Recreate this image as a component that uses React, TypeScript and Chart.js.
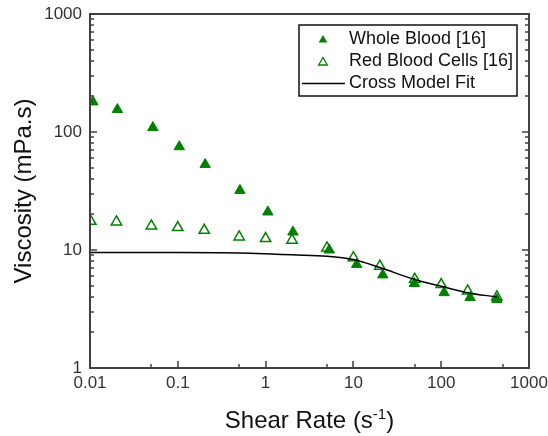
import React, { useEffect, useRef } from "react";
import { Chart, registerables } from "chart.js";

Chart.register(...registerables);

// ---- Data ----
const wholeBloodRate = [0.0108, 0.0205, 0.052, 0.104, 0.205, 0.51, 1.06, 2.05, 5.3, 10.9, 21.6, 49.5, 108, 213, 430];
const wholeBloodViscosity = [180, 155, 109, 75, 53, 32, 21, 14.2, 10.0, 7.55, 6.15, 5.2, 4.35, 3.95, 3.8];

const rbcRate = [0.0102, 0.02, 0.05, 0.1, 0.2, 0.5, 1, 2, 5, 10, 20, 50, 100, 200, 430];
const rbcViscosity = [17.5, 17.3, 16.0, 15.5, 14.7, 12.9, 12.5, 12.1, 10.4, 8.6, 7.3, 5.65, 5.1, 4.5, 4.0];

const fitRate = [0.01, 0.1, 0.5, 1, 2, 5, 10, 20, 50, 100, 200, 430];
const fitViscosity = [9.53, 9.53, 9.45, 9.3, 9.1, 8.86, 8.3, 7.1, 5.62, 4.93, 4.35, 4.0];

const seriesNames = ["Whole Blood [16]", "Red Blood Cells [16]", "Cross Model Fit"];

const xTickValues = [0.01, 0.1, 1, 10, 100, 1000];
const xTickLabels = ["0.01", "0.1", "1", "10", "100", "1000"];
const xMinorValues = [0.05, 0.5, 5, 50, 500];
const yTickValues = [1, 10, 100, 1000];
const yTickLabels = ["1", "10", "100", "1000"];
const yMinorValues = [2, 3, 4, 5, 6, 7, 8, 9, 20, 30, 40, 50, 60, 70, 80, 90, 200, 300, 400, 500, 600, 700, 800, 900];

const xTitleMain = "Shear Rate (s";
const xTitleSup = "-1";
const xTitleEnd = ")";
const yTitle = "Viscosity (mPa.s)";

const FONT = '"Liberation Sans", Arial, sans-serif';
const GREEN = "#008000";

function triPath(ctx: CanvasRenderingContext2D, x: number, y: number, r: number) {
  const a = (2 * Math.PI) / 3;
  ctx.beginPath();
  for (let i = 0; i < 3; i++) {
    const rad = i * a;
    const px = x + Math.sin(rad) * r;
    const py = y - Math.cos(rad) * r;
    if (i === 0) ctx.moveTo(px, py);
    else ctx.lineTo(px, py);
  }
  ctx.closePath();
}

const decorPlugin = {
  id: "decor",
  afterDraw(chart: any) {
    const { ctx, chartArea: a, scales } = chart;
    const xs = scales.x;
    const ys = scales.y;
    ctx.save();

    // frame
    ctx.strokeStyle = "#404040";
    ctx.lineWidth = 2;
    ctx.strokeRect(a.left, a.top, a.right - a.left, a.bottom - a.top);

    // inward ticks
    ctx.lineWidth = 1.5;
    ctx.beginPath();
    xTickValues.forEach((v) => {
      const px = Math.round(xs.getPixelForValue(v));
      ctx.moveTo(px, a.bottom);
      ctx.lineTo(px, a.bottom - 7);
    });
    xMinorValues.forEach((v) => {
      const px = Math.round(xs.getPixelForValue(v));
      ctx.moveTo(px, a.bottom);
      ctx.lineTo(px, a.bottom - 4);
    });
    yTickValues.forEach((v) => {
      const py = Math.round(ys.getPixelForValue(v));
      ctx.moveTo(a.left, py);
      ctx.lineTo(a.left + 7, py);
      ctx.moveTo(a.right, py);
      ctx.lineTo(a.right - 7, py);
    });
    yMinorValues.forEach((v) => {
      const py = Math.round(ys.getPixelForValue(v));
      ctx.moveTo(a.left, py);
      ctx.lineTo(a.left + 4, py);
      ctx.moveTo(a.right, py);
      ctx.lineTo(a.right - 4, py);
    });
    ctx.stroke();

    // legend
    const lx = 299, ly = 25, lw = 218, lh = 71;
    ctx.fillStyle = "#ffffff";
    ctx.fillRect(lx, ly, lw, lh);
    ctx.strokeStyle = "#111";
    ctx.lineWidth = 1.5;
    ctx.strokeRect(lx, ly, lw, lh);
    const rows = [39, 61.5, 83.5];
    ctx.font = `18px ${FONT}`;
    ctx.textBaseline = "middle";
    ctx.textAlign = "left";
    triPath(ctx, 323, rows[0] + 1, 5);
    ctx.fillStyle = GREEN;
    ctx.fill();
    triPath(ctx, 323, rows[1] + 1, 5);
    ctx.strokeStyle = GREEN;
    ctx.lineWidth = 1.3;
    ctx.stroke();
    ctx.beginPath();
    ctx.moveTo(302, rows[2]);
    ctx.lineTo(345, rows[2]);
    ctx.strokeStyle = "#000";
    ctx.lineWidth = 1.5;
    ctx.stroke();
    ctx.fillStyle = "#111";
    ctx.fillText(seriesNames[0], 349, rows[0]);
    ctx.fillText(seriesNames[1], 349, rows[1]);
    ctx.fillText(seriesNames[2], 349, rows[2]);

    // x title with superscript
    const cx = (a.left + a.right) / 2;
    ctx.fillStyle = "#111";
    ctx.textBaseline = "alphabetic";
    ctx.font = `24px ${FONT}`;
    const w1 = ctx.measureText(xTitleMain).width;
    const w3 = ctx.measureText(xTitleEnd).width;
    ctx.font = `15px ${FONT}`;
    const w2 = ctx.measureText(xTitleSup).width;
    const total = w1 + w2 + w3;
    let tx = cx - total / 2;
    const baseY = 428;
    ctx.font = `24px ${FONT}`;
    ctx.fillText(xTitleMain, tx, baseY);
    tx += w1;
    ctx.font = `15px ${FONT}`;
    ctx.fillText(xTitleSup, tx, baseY - 9);
    tx += w2;
    ctx.font = `24px ${FONT}`;
    ctx.fillText(xTitleEnd, tx, baseY);

    // y title
    ctx.translate(24, (a.top + a.bottom) / 2);
    ctx.rotate(-Math.PI / 2);
    ctx.textAlign = "center";
    ctx.textBaseline = "middle";
    ctx.font = `24px ${FONT}`;
    ctx.fillText(yTitle, 0, 0);

    ctx.restore();
  },
};

export default function App() {
  const ref = useRef<HTMLCanvasElement | null>(null);

  useEffect(() => {
    const canvas = ref.current;
    if (!canvas) return;
    const chart = new Chart(canvas, {
      type: "line",
      data: {
        datasets: [
          {
            label: seriesNames[2],
            data: fitRate.map((x, i) => ({ x, y: fitViscosity[i] })),
            borderColor: "#000",
            borderWidth: 1.5,
            pointRadius: 0,
            cubicInterpolationMode: "monotone",
            fill: false,
          },
          {
            label: seriesNames[1],
            data: rbcRate.map((x, i) => ({ x, y: rbcViscosity[i] })),
            showLine: false,
            pointStyle: "triangle",
            pointRadius: 6,
            pointBorderColor: GREEN,
            pointBackgroundColor: "rgba(0,0,0,0)",
            pointBorderWidth: 1.5,
          },
          {
            label: seriesNames[0],
            data: wholeBloodRate.map((x, i) => ({ x, y: wholeBloodViscosity[i] })),
            showLine: false,
            pointStyle: "triangle",
            pointRadius: 6,
            pointBorderColor: GREEN,
            pointBackgroundColor: GREEN,
            pointBorderWidth: 1,
          },
        ],
      } as any,
      options: {
        responsive: false,
        animation: false,
        events: [],
        layout: { padding: { left: 0, top: 14, right: 19, bottom: 0 } },
        plugins: { legend: { display: false }, tooltip: { enabled: false } },
        scales: {
          x: {
            type: "logarithmic",
            min: 0.01,
            max: 1000,
            grid: { display: false, drawTicks: false },
            border: { display: false },
            afterBuildTicks: (s: any) => {
              s.ticks = xTickValues.map((v) => ({ value: v, major: true }));
            },
            afterFit: (s: any) => {
              s.height = 68;
              s.paddingLeft = 0;
              s.paddingRight = 0;
              s.paddingTop = 0;
              s.paddingBottom = 0;
            },
            ticks: {
              autoSkip: false,
              maxRotation: 0,
              padding: 5,
              color: "#333",
              font: { family: FONT, size: 17 },
              callback: (_v: any, i: number) => xTickLabels[i],
            },
          },
          y: {
            type: "logarithmic",
            min: 1,
            max: 1000,
            grid: { display: false, drawTicks: false },
            border: { display: false },
            afterBuildTicks: (s: any) => {
              s.ticks = yTickValues.map((v) => ({ value: v, major: true }));
            },
            afterFit: (s: any) => {
              s.width = 90;
              s.paddingLeft = 0;
              s.paddingRight = 0;
              s.paddingTop = 0;
              s.paddingBottom = 0;
            },
            ticks: {
              autoSkip: false,
              padding: 8,
              color: "#333",
              font: { family: FONT, size: 17 },
              callback: (_v: any, i: number) => yTickLabels[i],
            },
          },
        },
      } as any,
      plugins: [decorPlugin],
    });
    return () => chart.destroy();
  }, []);

  return (
    <div style={{ position: "absolute", left: 0, top: 0, width: 548, height: 436, background: "#fff" }}>
      <canvas ref={ref} width={548} height={436} style={{ width: 548, height: 436, display: "block" }} />
    </div>
  );
}
